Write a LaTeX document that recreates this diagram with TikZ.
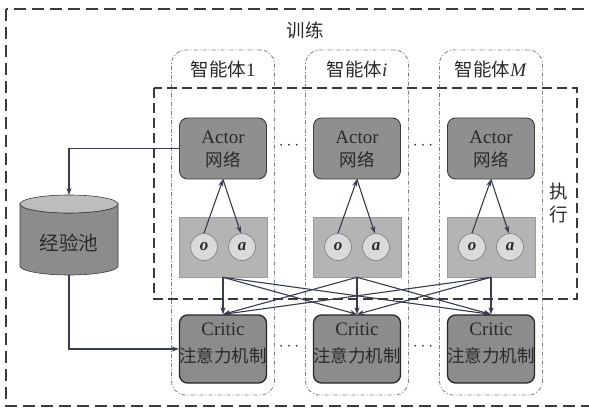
\documentclass[tikz,border=0pt]{standalone}
\usepackage{fontspec}
\setmainfont{Liberation Serif}
\newfontfamily\cjk{Noto Sans CJK SC}
\usetikzlibrary{arrows.meta}

\definecolor{linecol}{HTML}{353C4E}
\definecolor{textcol}{HTML}{2A2A2A}
\definecolor{actorfill}{HTML}{8F8F8F}
\definecolor{criticfill}{HTML}{8C8C8C}
\definecolor{boxedge}{HTML}{3C3C3C}
\definecolor{obsfill}{HTML}{B4B4B4}
\definecolor{obsedge}{HTML}{9A9A9A}
\definecolor{circfill}{HTML}{DADADA}
\definecolor{circedge}{HTML}{8A8A8A}
\definecolor{agentedge}{HTML}{7A7F88}
\definecolor{dashcol}{HTML}{3A3A3A}
\definecolor{poolbody}{HTML}{8C8C8C}
\definecolor{pooltopcol}{HTML}{BDBDBD}

\tikzset{
  actorbox/.style={draw=boxedge, fill=actorfill, rounded corners=8pt,
    minimum width=87pt, minimum height=61pt, line width=0.9pt, inner sep=0pt},
  criticbox/.style={draw=black!85, fill=criticfill, rounded corners=8pt,
    minimum width=87pt, minimum height=68pt, line width=1.3pt, inner sep=0pt},
  obsbox/.style={draw=obsedge, fill=obsfill, minimum width=88pt,
    minimum height=60pt, line width=0.6pt, inner sep=0pt},
  varcirc/.style={circle, draw=circedge, fill=circfill, minimum size=27pt,
    inner sep=0pt, line width=0.8pt, text=textcol,
    font=\fontsize{17}{17}\selectfont\bfseries\itshape},
  agentbox/.style={draw=agentedge, dash pattern=on 4pt off 2pt on 1pt off 2pt,
    rounded corners=14pt, line width=0.8pt, minimum width=103pt,
    minimum height=345pt, inner sep=0pt},
  arr/.style={draw=linecol, line width=1.1pt, -{Stealth[length=7pt,width=5pt]}},
  lab/.style={text=textcol, inner sep=0pt},
  latin/.style={lab, font=\fontsize{19}{19}\selectfont},
  zh/.style={lab, font=\cjk\fontsize{17.5}{17.5}\selectfont},
  head/.style={lab, font=\cjk\fontsize{18.5}{18.5}\selectfont},
  dots/.style={lab, font=\fontsize{16}{16}\selectfont},
}

\begin{document}
\begin{tikzpicture}[x=1pt, y=-1pt]
\clip (0,0) rectangle (589,409);

% outer training frame
\draw[dashcol, line width=1.2pt, dash pattern=on 12pt off 6pt] (6,9) rectangle (600,406);
\node[head] (train) at (305,30) {训练};

% agent containers
\foreach \n/\x/\t in {1/223/1, i/357/\textit{i}, M/491/\textit{M}} {
  \node[agentbox] (ag\n) at (\x,222.5) {};
  \node[head] (agl\n) at (\x,69) {智能体{\rmfamily\fontsize{19}{19}\selectfont\t}};
}

% execution frame
\draw[dashcol, line width=1.2pt, dash pattern=on 10pt off 5pt] (154,88) rectangle (577,299);
\node[head] (exec1) at (559,191) {执};
\node[head] (exec2) at (559,214) {行};

% actors, observation/action groups and critics
\foreach \n/\x in {1/223, i/357, M/491} {
  \node[actorbox] (act\n) at (\x,148.5) {};
  \node[latin] (actl\n) at (\x,137.5) {Actor};
  \node[zh] (actz\n) at (\x,160) {网络};
  \node[obsbox] (obs\n) at (\x,247) {};
  \node[varcirc] (o\n) at (\x-19,247) {o};
  \node[varcirc] (a\n) at (\x+19,247) {a};
  \node[criticbox] (crit\n) at (\x,349) {};
  \node[latin] (critl\n) at (\x,329) {Critic};
  \node[zh] (critz\n) at (\x,356) {注意力机制};
  \draw[arr] (o\n.north) -- (act\n.south);
  \draw[arr] (act\n.south) -- (a\n.95);
}

% every observation group feeds every critic
\foreach \s in {1,i,M} {
  \foreach \t in {1,i,M} {
    \draw[arr] (obs\s.south) -- (crit\t.north);
  }
}

% ellipses between columns
\node[dots] (d1) at (289,146) {$\cdots$};
\node[dots] (d2) at (423,146) {$\cdots$};
\node[dots] (d3) at (289,347) {$\cdots$};
\node[dots] (d4) at (423,347) {$\cdots$};

% replay pool cylinder
\fill[poolbody, draw=boxedge, line width=0.6pt]
  (20,204) -- (20,266) arc[start angle=180, end angle=0, x radius=49, y radius=9]
  -- (118,204) arc[start angle=0, end angle=180, x radius=49, y radius=9] -- cycle;
\draw[fill=pooltopcol, draw=boxedge, line width=0.6pt] (69,204) ellipse [x radius=49, y radius=9];
\node[lab, font=\cjk\fontsize{19.5}{19.5}\selectfont] (pool) at (69,243) {经验池};
\coordinate (pooltop) at (69,195);
\coordinate (poolbot) at (69,275);

% pool connections
\draw[arr] (act1.west) -| (pooltop);
\draw[arr] (poolbot) |- (crit1.west);
\end{tikzpicture}
\end{document}
